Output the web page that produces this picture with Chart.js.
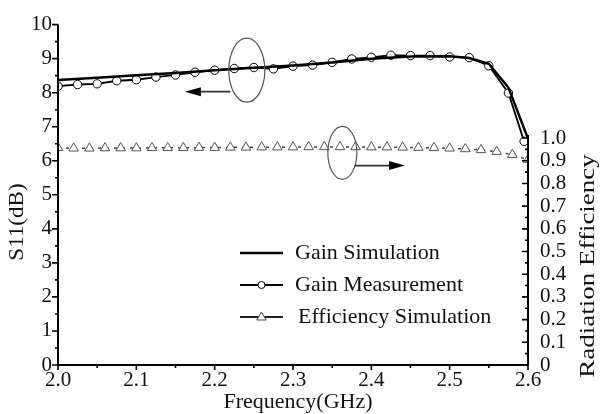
<!DOCTYPE html>
<html>
<head>
<meta charset="utf-8">
<script src="https://cdn.jsdelivr.net/npm/chart.js@4.4.0/dist/chart.umd.min.js"></script>
<style>
  html, body { margin: 0; padding: 0; background: #fff; }
</style>
</head>
<body>
<canvas id="chart" width="600" height="414"></canvas>
<script>
// Gain measurement (circles)
const measFreq = [2.000, 2.025, 2.050, 2.075, 2.100, 2.125, 2.150, 2.175, 2.200, 2.225, 2.250, 2.275, 2.300,
                  2.325, 2.350, 2.375, 2.400, 2.425, 2.450, 2.475, 2.500, 2.525, 2.550, 2.575, 2.595];
const gainMeas = [8.19, 8.24, 8.26, 8.35, 8.38, 8.46, 8.52, 8.60, 8.66, 8.71, 8.74, 8.70, 8.78,
                  8.81, 8.89, 8.99, 9.04, 9.10, 9.09, 9.09, 9.05, 9.03, 8.79, 7.99, 6.57];

// Gain simulation (solid line)
const simFreq = [2.00, 2.05, 2.10, 2.15, 2.20, 2.25, 2.30, 2.35, 2.40, 2.45, 2.50, 2.525, 2.55, 2.575, 2.60];
const gainSim = [8.37, 8.44, 8.51, 8.58, 8.66, 8.73, 8.80, 8.89, 9.00, 9.06, 9.07, 9.02, 8.85, 8.15, 6.65];

// Efficiency simulation (triangles, right axis)
const effFreq = [2.00, 2.02, 2.04, 2.06, 2.08, 2.10, 2.12, 2.14, 2.16, 2.18, 2.20, 2.22, 2.24, 2.26, 2.28, 2.30,
                 2.32, 2.34, 2.36, 2.38, 2.40, 2.42, 2.44, 2.46, 2.48, 2.50, 2.52, 2.54, 2.56, 2.58, 2.60];
const efficiency = [0.957, 0.955, 0.955, 0.956, 0.956, 0.956, 0.957, 0.957, 0.957, 0.958, 0.958, 0.959, 0.959,
                    0.960, 0.960, 0.960, 0.961, 0.961, 0.961, 0.961, 0.960, 0.960, 0.959, 0.958, 0.957, 0.955,
                    0.952, 0.948, 0.940, 0.927, 0.905];

const legendLabels = ['Gain Simulation', 'Gain Measurement', 'Efficiency Simulation'];
const xTitle = 'Frequency(GHz)';
const yTitle = 'S11(dB)';
const y1Title = 'Radiation Efficiency';

const FONT = "'Liberation Serif', 'Times New Roman', serif";

function pts(xs, ys) {
    return xs.map((v, i) => ({ x: v, y: ys[i] }));
}

function arrow(ctx, x0, y0, x1, y1) {
    const dir = Math.sign(x1 - x0);
    ctx.strokeStyle = '#333';
    ctx.lineWidth = 1.8;
    ctx.beginPath();
    ctx.moveTo(x0, y0);
    ctx.lineTo(x1 - dir * 12, y1);
    ctx.stroke();
    ctx.fillStyle = '#000';
    ctx.beginPath();
    ctx.moveTo(x1, y1);
    ctx.lineTo(x1 - dir * 16, y1 - 4.5);
    ctx.lineTo(x1 - dir * 16, y1 + 4.5);
    ctx.closePath();
    ctx.fill();
}

function triangle(ctx, cx, cy, r) {
    ctx.beginPath();
    ctx.moveTo(cx, cy - r);
    ctx.lineTo(cx + r * 0.95, cy + r * 0.6);
    ctx.lineTo(cx - r * 0.95, cy + r * 0.6);
    ctx.closePath();
    ctx.fillStyle = '#fff';
    ctx.fill();
    ctx.stroke();
}

// rotated title, stretched along its length a little like the original
function vTitle(ctx, text, cx, cy, stretch) {
    ctx.save();
    ctx.translate(cx, cy);
    ctx.rotate(-Math.PI / 2);
    ctx.scale(stretch, 1);
    ctx.fillText(text, 0, 0);
    ctx.restore();
}

// axes, minor ticks, annotations, legend and titles
const decor = {
    id: 'decor',
    afterDatasetsDraw(chart) {
        const ctx = chart.ctx;
        const a = chart.chartArea;
        const { x, y, y1 } = chart.scales;
        ctx.save();

        // axis lines
        ctx.strokeStyle = '#000';
        ctx.lineWidth = 2;
        ctx.beginPath();
        ctx.moveTo(a.left, a.top);
        ctx.lineTo(a.left, a.bottom);
        ctx.lineTo(a.right, a.bottom);
        ctx.moveTo(a.right, a.bottom);
        ctx.lineTo(a.right, y1.getPixelForValue(1.0) - 3);
        ctx.stroke();

        // x ticks (outward), majors and minors
        ctx.lineWidth = 1.6;
        const xt = x.ticks.map(t => t.value);
        ctx.beginPath();
        xt.forEach((v, i) => {
            const px = x.getPixelForValue(v);
            ctx.moveTo(px, a.bottom); ctx.lineTo(px, a.bottom + 5);
            if (i < xt.length - 1) {
                const pm = x.getPixelForValue((v + xt[i + 1]) / 2);
                ctx.moveTo(pm, a.bottom); ctx.lineTo(pm, a.bottom + 3);
            }
        });
        // left ticks (outward)
        const yt = y.ticks.map(t => t.value);
        yt.forEach((v, i) => {
            const py = y.getPixelForValue(v);
            ctx.moveTo(a.left, py); ctx.lineTo(a.left - 6, py);
            if (i < yt.length - 1) {
                const pm = y.getPixelForValue((v + yt[i + 1]) / 2);
                ctx.moveTo(a.left, pm); ctx.lineTo(a.left - 3, pm);
            }
        });
        // right ticks (inward)
        const rt = y1.ticks.map(t => t.value);
        rt.forEach((v, i) => {
            const py = y1.getPixelForValue(v);
            ctx.moveTo(a.right, py); ctx.lineTo(a.right - 6, py);
            if (i < rt.length - 1) {
                const pm = y1.getPixelForValue((v + rt[i + 1]) / 2);
                ctx.moveTo(a.right, pm); ctx.lineTo(a.right - 3, pm);
            }
        });
        ctx.stroke();

        // ellipses + arrows
        ctx.strokeStyle = '#555';
        ctx.lineWidth = 1.2;
        const e1x = x.getPixelForValue(2.241), e1y = y.getPixelForValue(8.66);
        ctx.beginPath();
        ctx.ellipse(e1x, e1y, 18, 32, 0, 0, Math.PI * 2);
        ctx.stroke();
        arrow(ctx, x.getPixelForValue(2.22), y.getPixelForValue(8.03), x.getPixelForValue(2.162), y.getPixelForValue(8.03));

        ctx.strokeStyle = '#555';
        ctx.lineWidth = 1.2;
        const e2x = x.getPixelForValue(2.363), e2y = y1.getPixelForValue(0.935);
        ctx.beginPath();
        ctx.ellipse(e2x, e2y, 14.5, 26.5, 0, 0, Math.PI * 2);
        ctx.stroke();
        arrow(ctx, x.getPixelForValue(2.379), y.getPixelForValue(5.86), x.getPixelForValue(2.443), y.getPixelForValue(5.86));

        // legend
        const lx = 240, lx2 = 283;
        const rows = [253, 285, 317];
        ctx.strokeStyle = '#000';
        ctx.lineWidth = 2.5;
        ctx.beginPath(); ctx.moveTo(lx, rows[0]); ctx.lineTo(lx2, rows[0]); ctx.stroke();
        ctx.lineWidth = 2;
        ctx.beginPath(); ctx.moveTo(lx, rows[1]); ctx.lineTo(lx2, rows[1]); ctx.stroke();
        ctx.lineWidth = 1;
        ctx.fillStyle = '#fff';
        ctx.beginPath(); ctx.arc((lx + lx2) / 2, rows[1], 3.5, 0, Math.PI * 2); ctx.fill(); ctx.stroke();
        ctx.lineWidth = 2;
        ctx.strokeStyle = '#222';
        ctx.beginPath(); ctx.moveTo(lx, rows[2]); ctx.lineTo(lx2, rows[2]); ctx.stroke();
        ctx.lineWidth = 1;
        ctx.strokeStyle = '#444';
        triangle(ctx, (lx + lx2) / 2, rows[2], 5);

        ctx.fillStyle = '#111';
        ctx.font = '22px ' + FONT;
        ctx.textBaseline = 'middle';
        ctx.textAlign = 'left';
        ctx.fillText(legendLabels[0], 295, rows[0]);
        ctx.fillText(legendLabels[1], 295, rows[1]);
        ctx.fillText(legendLabels[2], 298, rows[2]);

        // axis titles
        ctx.font = '22px ' + FONT;
        ctx.textAlign = 'center';
        ctx.fillText(xTitle, 298, 402);
        ctx.font = '21px ' + FONT;
        vTitle(ctx, yTitle, 17, 222, 1.1);
        ctx.font = '20px ' + FONT;
        vTitle(ctx, y1Title, 589, 266, 1.35);

        ctx.restore();
    }
};

const ctx = document.getElementById('chart').getContext('2d');
new Chart(ctx, {
    type: 'line',
    data: {
        datasets: [
            {
                label: legendLabels[2],
                data: pts(effFreq, efficiency),
                yAxisID: 'y1',
                borderColor: '#444',
                borderWidth: 1.5,
                borderDash: [3, 5],
                pointStyle: 'triangle',
                pointRadius: 5.5,
                pointBorderWidth: 1,
                pointBorderColor: '#555',
                pointBackgroundColor: '#fff',
                tension: 0
            },
            {
                label: legendLabels[0],
                data: pts(simFreq, gainSim),
                yAxisID: 'y',
                borderColor: '#000',
                borderWidth: 2.5,
                pointRadius: 0,
                tension: 0
            },
            {
                label: legendLabels[1],
                data: pts(measFreq, gainMeas),
                yAxisID: 'y',
                borderColor: '#000',
                borderWidth: 1.8,
                pointRadius: 4.2,
                pointBorderWidth: 1,
                pointBorderColor: '#000',
                pointBackgroundColor: '#fff',
                tension: 0
            }
        ]
    },
    options: {
        responsive: false,
        animation: false,
        layout: { padding: { top: 15, left: 0, right: 0, bottom: 0 } },
        plugins: {
            legend: { display: false },
            tooltip: { enabled: false }
        },
        scales: {
            x: {
                type: 'linear',
                min: 2.0,
                max: 2.6,
                afterFit: s => { s.height = 49; },
                grid: { display: false, drawTicks: false },
                border: { display: false },
                ticks: {
                    stepSize: 0.1,
                    padding: 3,
                    color: '#111',
                    font: { family: FONT, size: 21 },
                    callback: v => v.toFixed(1)
                }
            },
            y: {
                position: 'left',
                min: 0,
                max: 10,
                afterFit: s => { s.width = 58; },
                grid: { display: false, drawTicks: false },
                border: { display: false },
                ticks: {
                    stepSize: 1,
                    padding: 6,
                    color: '#111',
                    font: { family: FONT, size: 21 }
                }
            },
            y1: {
                position: 'right',
                min: 0,
                max: 1.5,
                afterFit: s => { s.width = 72; },
                afterBuildTicks: s => { s.ticks = s.ticks.filter(t => t.value <= 1.0001); },
                grid: { display: false, drawTicks: false },
                border: { display: false },
                ticks: {
                    stepSize: 0.1,
                    padding: 12,
                    color: '#111',
                    font: { family: FONT, size: 21 },
                    callback: v => (v === 0 ? '0' : v.toFixed(1))
                }
            }
        }
    },
    plugins: [decor]
});
</script>
</body>
</html>
